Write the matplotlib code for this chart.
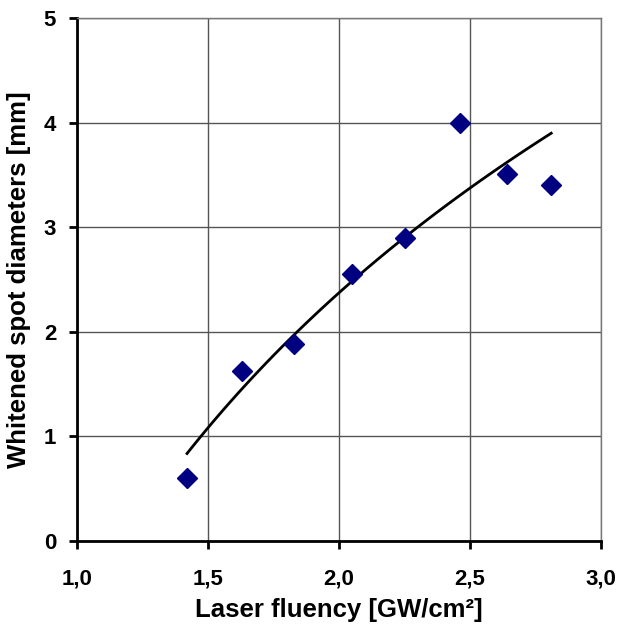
import matplotlib
matplotlib.use("Agg")
import matplotlib.pyplot as plt
from matplotlib.ticker import FuncFormatter
import numpy as np

fluency = [1.42, 1.63, 1.83, 2.05, 2.25, 2.46, 2.64, 2.81]
diameter = [0.60, 1.63, 1.88, 2.55, 2.90, 4.00, 3.51, 3.40]

x_ticks = [1.0, 1.5, 2.0, 2.5, 3.0]
y_ticks = [0, 1, 2, 3, 4, 5]

plt.rcParams['font.family'] = ['Liberation Sans', 'DejaVu Sans']
plt.rcParams['font.weight'] = 'bold'

fig = plt.figure(figsize=(6.2, 6.36), dpi=100)
ax = fig.add_axes([77 / 620, 1 - 541 / 636, 524 / 620, 523 / 636])

# Logarithmic trendline fitted to the data (as the spreadsheet did)
a, b = np.polyfit(np.log(fluency), diameter, 1)
xs = np.linspace(min(fluency), max(fluency), 100)
ax.plot(xs, a * np.log(xs) + b, color='black', lw=2, zorder=3)

ax.plot(fluency, diameter, linestyle='none', marker='D', markersize=10,
        color='#000080', zorder=4)

ax.set_xlim(1.0, 3.0)
ax.set_ylim(0, 5)
ax.set_xticks(x_ticks)
ax.set_yticks(y_ticks)
ax.xaxis.set_major_formatter(FuncFormatter(lambda v, p: f"{v:.1f}".replace('.', ',')))
ax.grid(True, color='#555555', lw=1)
ax.set_axisbelow(True)

for s in ['top', 'right']:
    ax.spines[s].set_color('#777777')
    ax.spines[s].set_linewidth(1)
for s in ['left', 'bottom']:
    ax.spines[s].set_color('black')
    ax.spines[s].set_linewidth(2)

ax.tick_params(direction='out', length=6, width=2, labelsize=16)
ax.tick_params(axis='x', pad=14)
ax.tick_params(axis='y', pad=9)
ax.set_xlabel('Laser fluency [GW/cm²]', fontsize=18.5, fontweight='bold', labelpad=6)
ax.set_ylabel('Whitened spot diameters [mm]', fontsize=18.5, fontweight='bold', labelpad=9)

fig.savefig('out.png', dpi=100)
